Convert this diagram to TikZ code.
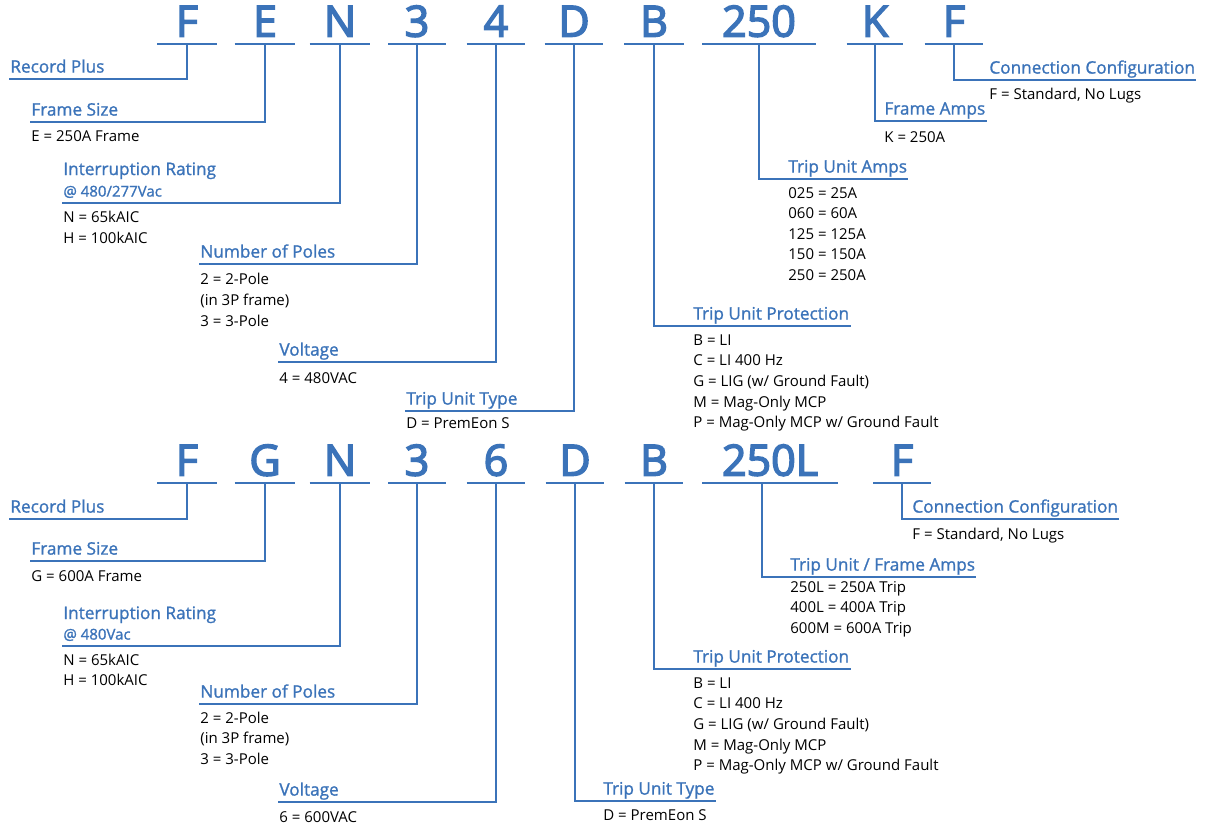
\documentclass[tikz,border=0pt]{standalone}
\usepackage{fontspec}
\setmainfont{Open Sans}
\newfontfamily\headfont{Open Sans}[FakeBold=1.2]
\newfontfamily\codefont{Open Sans}[FakeBold=3.5]
\usepackage{xcolor}
\definecolor{geblue}{RGB}{59,115,185}

\begin{document}
\begin{tikzpicture}[x=0.5pt,y=-0.5pt]
\tikzstyle{code} = [font=\fontsize{21.5}{24}\selectfont\codefont, text=geblue, anchor=south, inner xsep=0pt, inner ysep=3.5pt, text depth=0pt]
\tikzstyle{bar} = [draw=geblue, line width=1pt]
\tikzstyle{head} = [font=\fontsize{8.6}{10}\selectfont\headfont, text=geblue, anchor=south west, inner xsep=0.5pt, inner ysep=0pt, text depth=3pt]
\tikzstyle{sub} = [head, font=\fontsize{7.5}{9}\selectfont\headfont]
\tikzstyle{desc} = [font=\fontsize{7.5}{9}\selectfont, anchor=base west, inner sep=0pt]

\useasboundingbox (0,0) rectangle (1214,826);

% upper code: FEN34DB250KF
\node[code, minimum width=29.5pt] (a1) at (187,44) {F};
\node[code, minimum width=30pt] (a2) at (265,44) {E};
\node[code, minimum width=30pt] (a3) at (340,44) {N};
\node[code, minimum width=28.5pt] (a4) at (417,44) {3};
\node[code, minimum width=29pt] (a5) at (496,44) {4};
\node[code, minimum width=29pt] (a6) at (574,44) {D};
\node[code, minimum width=29.5pt] (a7) at (654,44) {B};
\node[code, minimum width=56.5pt] (a8) at (759,44) {250};
\node[code, minimum width=28pt] (a9) at (875,44) {K};
\node[code, minimum width=29pt] (a10) at (954,44) {F};

\node[head] (arec) at (9,79) {Record Plus};
\node[head] (afra) at (30,122) {Frame Size};
\node[head, anchor=base west] (aint) at (62,175) {Interruption Rating};
\node[sub] (aat) at (62,203) {@ 480/277Vac};
\node[head] (apol) at (199,264) {Number of Poles};
\node[head] (avol) at (278,362) {Voltage};
\node[head] (atyp) at (405,411) {Trip Unit Type};
\node[head] (apro) at (692,326) {Trip Unit Protection};
\node[head] (aamp) at (787,179) {Trip Unit Amps};
\node[head] (afam) at (883,121) {Frame Amps};
\node[head] (acon) at (988,80) {Connection Configuration};

\foreach \n in {a1,a2,a3,a4,a5,a6,a7,a8,a9,a10}
  \draw[bar] (\n.south west) -- (\n.south east);

\draw[bar] (a1.south) |- (arec.south west);
\draw[bar] (a2.south) |- (afra.south west);
\draw[bar] (a3.south) |- (aat.south west);
\draw[bar] (a4.south) |- (apol.south west);
\draw[bar] (a5.south) |- (avol.south west);
\draw[bar] (a6.south) |- (atyp.south west);
\draw[bar] (a7.south) |- (apro.south east);
\draw[bar] (a8.south) |- (aamp.south east);
\draw[bar] (a9.south) |- (afam.south east);
\draw[bar] (a10.south) |- (acon.south east);

\node[desc] (afra1) at (31,141) {E = 250A Frame};
\node[desc] (aint1) at (63,222) {N = 65kAIC};
\node[desc] (aint2) at (63,243) {H = 100kAIC};
\node[desc] (apol1) at (200,284) {2 = 2-Pole};
\node[desc] (apol2) at (200,305) {(in 3P frame)};
\node[desc] (apol3) at (200,326) {3 = 3-Pole};
\node[desc] (avol1) at (279,383) {4 = 480VAC};
\node[desc] (atyp1) at (406,428) {D = PremEon S};
\foreach \s [count=\i from 0] in {B = LI, C = LI 400 Hz, {G = LIG (w/ Ground Fault)}, M = Mag-Only MCP, {P = Mag-Only MCP w/ Ground Fault}}
  \node[desc] (apro\i) at (693,{345+20.7*\i}) {\s};
\foreach \s [count=\i from 0] in {025 = 25A, 060 = 60A, 125 = 125A, 150 = 150A, 250 = 250A}
  \node[desc] (aamp\i) at (788,{198+20.6*\i}) {\s};
\node[desc] (afam1) at (884,142) {K = 250A};
\node[desc] (acon1) at (989,99) {F = Standard, No Lugs};

% lower code: FGN36DB250LF
\node[code, minimum width=29.5pt] (b1) at (187,483) {F};
\node[code, minimum width=30pt] (b2) at (265,483) {G};
\node[code, minimum width=30pt] (b3) at (340,483) {N};
\node[code, minimum width=28.5pt] (b4) at (417,483) {3};
\node[code, minimum width=29pt] (b5) at (496,483) {6};
\node[code, minimum width=29pt] (b6) at (575,483) {D};
\node[code, minimum width=29pt] (b7) at (654,483) {B};
\node[code, minimum width=67.5pt] (b8) at (770,483) {250L};
\node[code, minimum width=28.5pt] (b9) at (902,483) {F};

\node[head] (brec) at (9,519) {Record Plus};
\node[head] (bfra) at (30,561) {Frame Size};
\node[head, anchor=base west] (bint) at (62,619) {Interruption Rating};
\node[sub] (bat) at (62,646) {@ 480Vac};
\node[head] (bpol) at (199,704) {Number of Poles};
\node[head] (bvol) at (278,802) {Voltage};
\node[head] (btyp) at (602,801) {Trip Unit Type};
\node[head] (bpro) at (692,669) {Trip Unit Protection};
\node[head] (bamp) at (789,577) {Trip Unit / Frame Amps};
\node[head] (bcon) at (911,519) {Connection Configuration};

\foreach \n in {b1,b2,b3,b4,b5,b6,b7,b8,b9}
  \draw[bar] (\n.south west) -- (\n.south east);

\draw[bar] (b1.south) |- (brec.south west);
\draw[bar] (b2.south) |- (bfra.south west);
\draw[bar] (b3.south) |- (bat.south west);
\draw[bar] (b4.south) |- (bpol.south west);
\draw[bar] (b5.south) |- (bvol.south west);
\draw[bar] (b6.south) |- (btyp.south east);
\draw[bar] (b7.south) |- (bpro.south east);
\draw[bar] ([xshift=-4pt]b8.south) |- (bamp.south east);
\draw[bar] (b9.south) |- (bcon.south east);

\node[desc] (bfra1) at (31,581) {G = 600A Frame};
\node[desc] (bint1) at (63,665) {N = 65kAIC};
\node[desc] (bint2) at (63,685) {H = 100kAIC};
\node[desc] (bpol1) at (200,723) {2 = 2-Pole};
\node[desc] (bpol2) at (200,743) {(in 3P frame)};
\node[desc] (bpol3) at (200,764) {3 = 3-Pole};
\node[desc] (bvol1) at (279,822) {6 = 600VAC};
\node[desc] (btyp1) at (603,820) {D = PremEon S};
\foreach \s [count=\i from 0] in {B = LI, C = LI 400 Hz, {G = LIG (w/ Ground Fault)}, M = Mag-Only MCP, {P = Mag-Only MCP w/ Ground Fault}}
  \node[desc] (bpro\i) at (693,{688+20.7*\i}) {\s};
\node[desc] (bamp1) at (790,592) {250L = 250A Trip};
\node[desc] (bamp2) at (790,612) {400L = 400A Trip};
\node[desc] (bamp3) at (790,633) {600M = 600A Trip};
\node[desc] (bcon1) at (912,539) {F = Standard, No Lugs};
\end{tikzpicture}
\end{document}
